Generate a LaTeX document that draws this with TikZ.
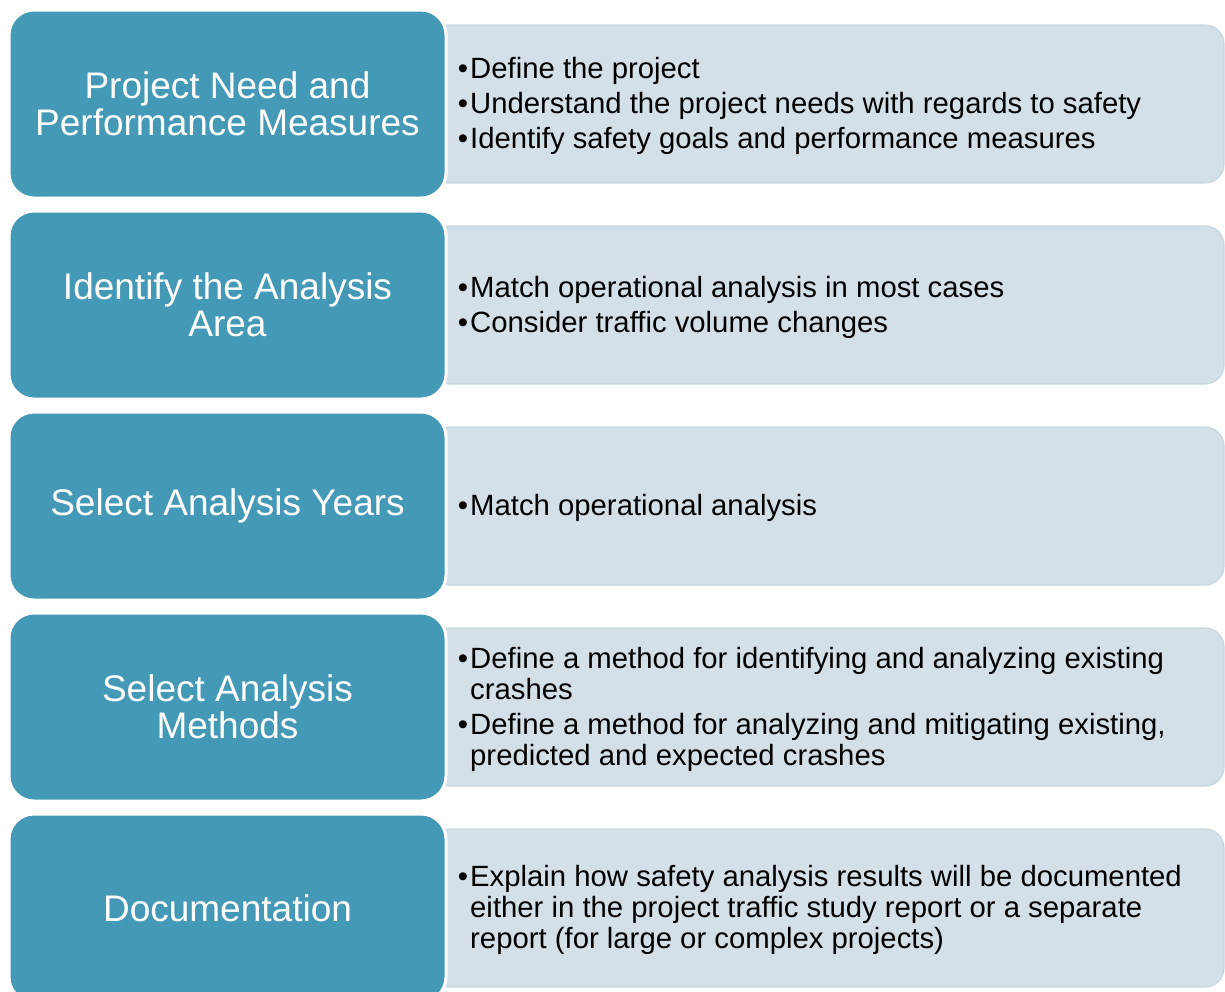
\documentclass[tikz,border=0pt]{standalone}
\usepackage{fontspec}
\setmainfont{Liberation Sans}
\definecolor{stepblue}{HTML}{4499B7}
\definecolor{notefill}{HTML}{D3E0E7}
\definecolor{noteedge}{HTML}{C8D6DE}
\newcommand{\bul}{\llap{\textbullet\hspace{2pt}}}
\begin{document}
\begin{tikzpicture}[x=1pt,y=-1pt,
  stepbox/.style={rectangle, rounded corners=25pt, fill=stepblue, draw=white,
    line width=3pt, minimum width=437pt, minimum height=188pt, inner sep=0pt,
    text=white, align=center, font=\fontsize{37}{37}\selectfont},
  notebox/.style={rectangle, rounded corners=19pt, fill=notefill, draw=noteedge,
    line width=1.2pt, minimum width=794pt, minimum height=158pt, inner sep=0pt},
  notetext/.style={anchor=west, align=left, inner sep=0pt, text=black,
    font=\fontsize{29.3}{31}\selectfont}]
\useasboundingbox (0,0) rectangle (1225,991);
\clip (0,0) rectangle (1225,991);

% row 1
\node[notebox] (n1) at (827,104) {};
\node[stepbox] (s1) at (227.5,104) {Project Need and\\Performance Measures};
\node[notetext] (t1) at (470,106) {\bul Define the project\\[4pt]
  \bul Understand the project needs with regards to safety\\[4pt]
  \bul Identify safety goals and performance measures};

% row 2
\node[notebox] (n2) at (827,305) {};
\node[stepbox] (s2) at (227.5,305) {Identify the Analysis\\Area};
\node[notetext] (t2) at (470,307) {\bul Match operational analysis in most cases\\[4pt]
  \bul Consider traffic volume changes};

% row 3
\node[notebox] (n3) at (827,506) {};
\node[stepbox] (s3) at (227.5,506) {Select Analysis Years};
\node[notetext] (t3) at (470,508) {\bul Match operational analysis};

% row 4
\node[notebox] (n4) at (827,707) {};
\node[stepbox] (s4) at (227.5,707) {Select Analysis\\Methods};
\node[notetext] (t4) at (470,709) {\bul Define a method for identifying and analyzing existing\\
  crashes\\[4pt]
  \bul Define a method for analyzing and mitigating existing,\\
  predicted and expected crashes};

% row 5
\node[notebox] (n5) at (827,908) {};
\node[stepbox] (s5) at (227.5,908) {Documentation};
\node[notetext] (t5) at (470,910) {\bul Explain how safety analysis results will be documented\\
  either in the project traffic study report or a separate\\
  report (for large or complex projects)};
\end{tikzpicture}
\end{document}
